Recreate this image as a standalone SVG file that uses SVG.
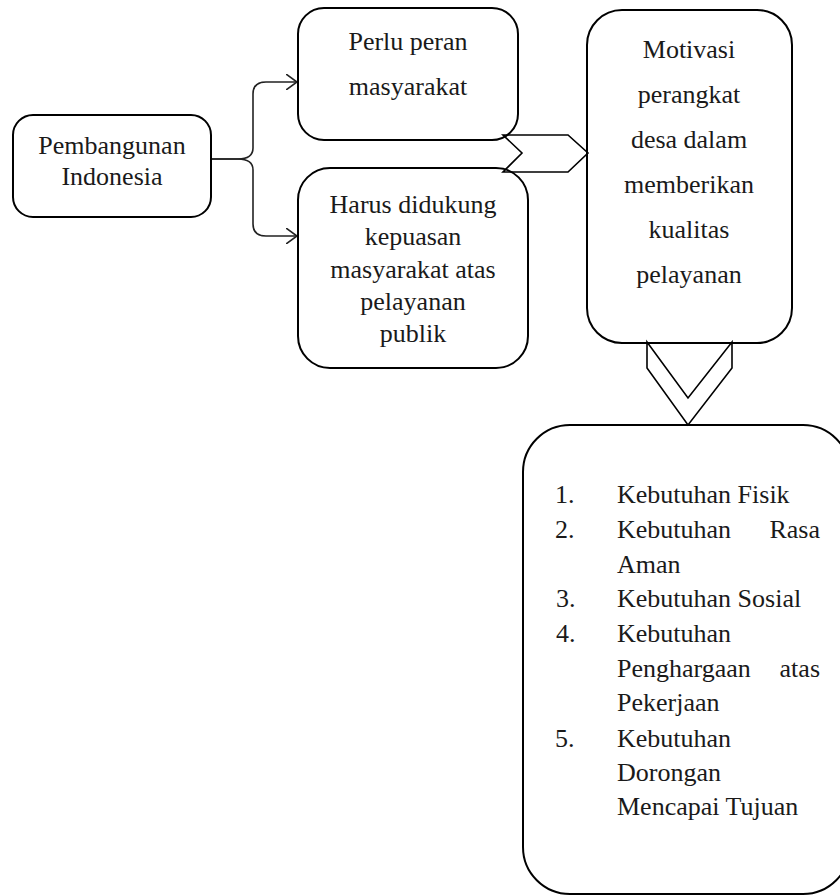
<svg xmlns="http://www.w3.org/2000/svg" width="840" height="895" viewBox="0 0 840 895">
<style>
.box{fill:none;stroke:#000;stroke-width:2}
.t{font-family:"Liberation Serif","Times New Roman",serif;font-size:26px;fill:#1a1a1a}
.c{text-anchor:middle}
.e{text-anchor:end}
.con{fill:none;stroke:#222;stroke-width:1.6}
.chev{fill:none;stroke:#000;stroke-width:1.6;stroke-linejoin:miter}
</style>
<defs>
<marker id="open" viewBox="0 0 12 16" refX="11" refY="8" markerWidth="12" markerHeight="16" markerUnits="userSpaceOnUse" orient="auto">
<path d="M0,0 L11,8 L0,16" fill="none" stroke="#222" stroke-width="1.6"/>
</marker>
</defs>
<rect width="840" height="895" fill="#fff"/>
<g id="connectors">
<path class="con" d="M211,159 H238 Q253,159 253,148 V94 Q253,82 266,82 H297" marker-end="url(#open)"/>
<path class="con" d="M211,159 H238 Q253,159 253,170 V224 Q253,236 266,236 H297" marker-end="url(#open)"/>
<polygon class="chev" points="503,135 568,135 588,153 568,172 503,172 522,153"/>
<polygon class="chev" points="647,342 688,398 732,342 732,368 688,425 647,368"/>
</g>
<g id="node-pembangunan">
<rect class="box" x="13" y="115" width="198" height="102" rx="20"/>
<text class="t c" x="112" y="154">Pembangunan</text>
<text class="t c" x="112" y="185">Indonesia</text>
</g>
<g id="node-perlu">
<rect class="box" x="298" y="8" width="220" height="132" rx="26"/>
<text class="t c" x="408" y="50">Perlu peran</text>
<text class="t c" x="408" y="95">masyarakat</text>
</g>
<g id="node-harus">
<rect class="box" x="298" y="168" width="230" height="200" rx="32"/>
<text class="t c" x="413" y="213">Harus didukung</text>
<text class="t c" x="413" y="245">kepuasan</text>
<text class="t c" x="413" y="278">masyarakat atas</text>
<text class="t c" x="413" y="310">pelayanan</text>
<text class="t c" x="413" y="342">publik</text>
</g>
<g id="node-motivasi">
<rect class="box" x="587" y="10" width="205" height="333" rx="35"/>
<text class="t c" x="689" y="58">Motivasi</text>
<text class="t c" x="689" y="103">perangkat</text>
<text class="t c" x="689" y="148">desa dalam</text>
<text class="t c" x="689" y="193">memberikan</text>
<text class="t c" x="689" y="238">kualitas</text>
<text class="t c" x="689" y="283">pelayanan</text>
</g>
<g id="node-kebutuhan">
<rect class="box" x="523" y="425" width="327" height="469" rx="47"/>
<text class="t" x="555" y="503">1.</text>
<text class="t" x="617" y="503">Kebutuhan Fisik</text>
<text class="t" x="555" y="538">2.</text>
<text class="t" x="617" y="538">Kebutuhan</text>
<text class="t e" x="820" y="538">Rasa</text>
<text class="t" x="617" y="573">Aman</text>
<text class="t" x="556" y="607">3.</text>
<text class="t" x="617" y="607">Kebutuhan Sosial</text>
<text class="t" x="556" y="642">4.</text>
<text class="t" x="617" y="642">Kebutuhan</text>
<text class="t" x="617" y="677">Penghargaan</text>
<text class="t e" x="820" y="677">atas</text>
<text class="t" x="617" y="711">Pekerjaan</text>
<text class="t" x="555" y="747">5.</text>
<text class="t" x="617" y="747">Kebutuhan</text>
<text class="t" x="617" y="781">Dorongan</text>
<text class="t" x="617" y="815">Mencapai Tujuan</text>
</g>
</svg>
